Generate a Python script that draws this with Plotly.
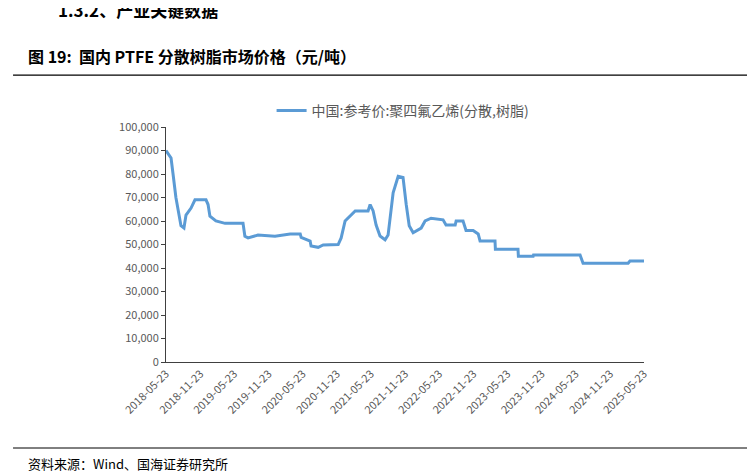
import plotly.graph_objects as go

# PTFE dispersion resin price
dates = ["2018-05-23", "2018-06-19", "2018-06-29", "2018-07-15", "2018-08-11", "2018-08-27",
         "2018-09-07", "2018-10-04", "2018-10-25", "2018-12-23", "2019-01-03", "2019-01-13",
         "2019-02-14", "2019-04-04", "2019-07-09", "2019-07-19", "2019-08-05", "2019-09-27",
         "2019-12-27", "2020-03-17", "2020-05-10", "2020-05-15", "2020-07-02", "2020-07-07",
         "2020-08-14", "2020-09-10", "2020-11-29", "2020-12-15", "2021-01-05", "2021-02-01",
         "2021-02-28", "2021-05-08", "2021-05-19", "2021-06-04", "2021-06-20", "2021-07-11",
         "2021-08-07", "2021-08-23", "2021-09-19", "2021-10-16", "2021-11-11", "2021-11-28",
         "2021-12-14", "2022-01-04", "2022-02-16", "2022-03-09", "2022-04-10", "2022-06-13",
         "2022-06-29", "2022-08-17", "2022-08-22", "2022-09-28", "2022-10-14", "2022-11-21",
         "2022-12-18", "2022-12-28", "2023-03-18", "2023-03-20", "2023-07-19", "2023-07-21",
         "2023-10-08", "2023-10-10", "2024-06-15", "2024-07-01", "2025-02-27", "2025-03-09",
         "2025-05-23"]
prices = [90000, 86800, 80400, 70000, 58000, 57000,
          62500, 65500, 69000, 69000, 67000, 62000,
          60000, 59000, 59000, 53500, 52800, 54000,
          53500, 54500, 54500, 53000, 51500, 49400,
          48800, 49800, 50000, 52800, 60000, 62000,
          64300, 64300, 67000, 64300, 58300, 53600,
          52000, 54000, 72000, 79000, 78500, 67000,
          58000, 55000, 57000, 60000, 61200, 60500,
          58300, 58300, 60000, 60000, 56000, 56000,
          54500, 51500, 51500, 48000, 48000, 45000,
          45000, 45500, 45500, 42000, 42000, 43000,
          43000]

tick_dates = ["2018-05-23", "2018-11-23", "2019-05-23", "2019-11-23", "2020-05-23",
              "2020-11-23", "2021-05-23", "2021-11-23", "2022-05-23", "2022-11-23",
              "2023-05-23", "2023-11-23", "2024-05-23", "2024-11-23", "2025-05-23"]

fig = go.Figure()
fig.add_trace(go.Scatter(
    x=dates, y=prices, mode="lines",
    line=dict(color="#5B9BD5", width=3),
    name="中国:参考价:聚四氟乙烯(分散,树脂)",
))

font = "Noto Sans CJK SC"
fig.update_layout(
    width=755, height=471,
    margin=dict(l=158, r=119, t=119, b=117, autoexpand=False),
    paper_bgcolor="white", plot_bgcolor="white",
    font=dict(family=font, color="#595959", size=11),
    showlegend=True,
    legend=dict(x=0.496, y=1.068, xanchor="center", yanchor="middle",
                orientation="h", font=dict(size=14, color="#595959")),
    xaxis=dict(range=["2018-05-23", "2025-05-23"], tickvals=tick_dates, ticktext=tick_dates,
               tickangle=-45, showline=True, linecolor="#404040", showgrid=False,
               ticks="", tickfont=dict(size=11, color="#595959")),
    yaxis=dict(range=[0, 100000], dtick=10000, tickformat=",", showline=True,
               linecolor="#404040", showgrid=False, ticks="outside", ticklen=4,
               tickcolor="#404040", tickfont=dict(size=11, color="#595959")),
    annotations=[
        dict(text="<b>1.3.2、产业关键数据</b>", x=-0.23, y=1.50, xref="paper", yref="paper",
             xanchor="left", yanchor="middle", showarrow=False,
             font=dict(family=font, size=17, color="black")),
        dict(text="<b>图 19:  国内 PTFE 分散树脂市场价格（元/吨）</b>", x=-0.293, y=1.302,
             xref="paper", yref="paper", xanchor="left", yanchor="middle", showarrow=False,
             font=dict(family=font, size=16, color="black")),
        dict(text="资料来源：Wind、国海证券研究所", x=-0.293, y=-0.43, xref="paper",
             yref="paper", xanchor="left", yanchor="middle", showarrow=False,
             font=dict(family=font, size=13, color="black")),
    ],
    shapes=[
        dict(type="line", xref="paper", yref="paper", x0=-0.32, x1=1.238, y0=1.221, y1=1.221,
             line=dict(color="black", width=1.2)),
        dict(type="line", xref="paper", yref="paper", x0=-0.32, x1=1.238, y0=-0.366, y1=-0.366,
             line=dict(color="black", width=1)),
    ],
)
fig.write_html("out.html")
